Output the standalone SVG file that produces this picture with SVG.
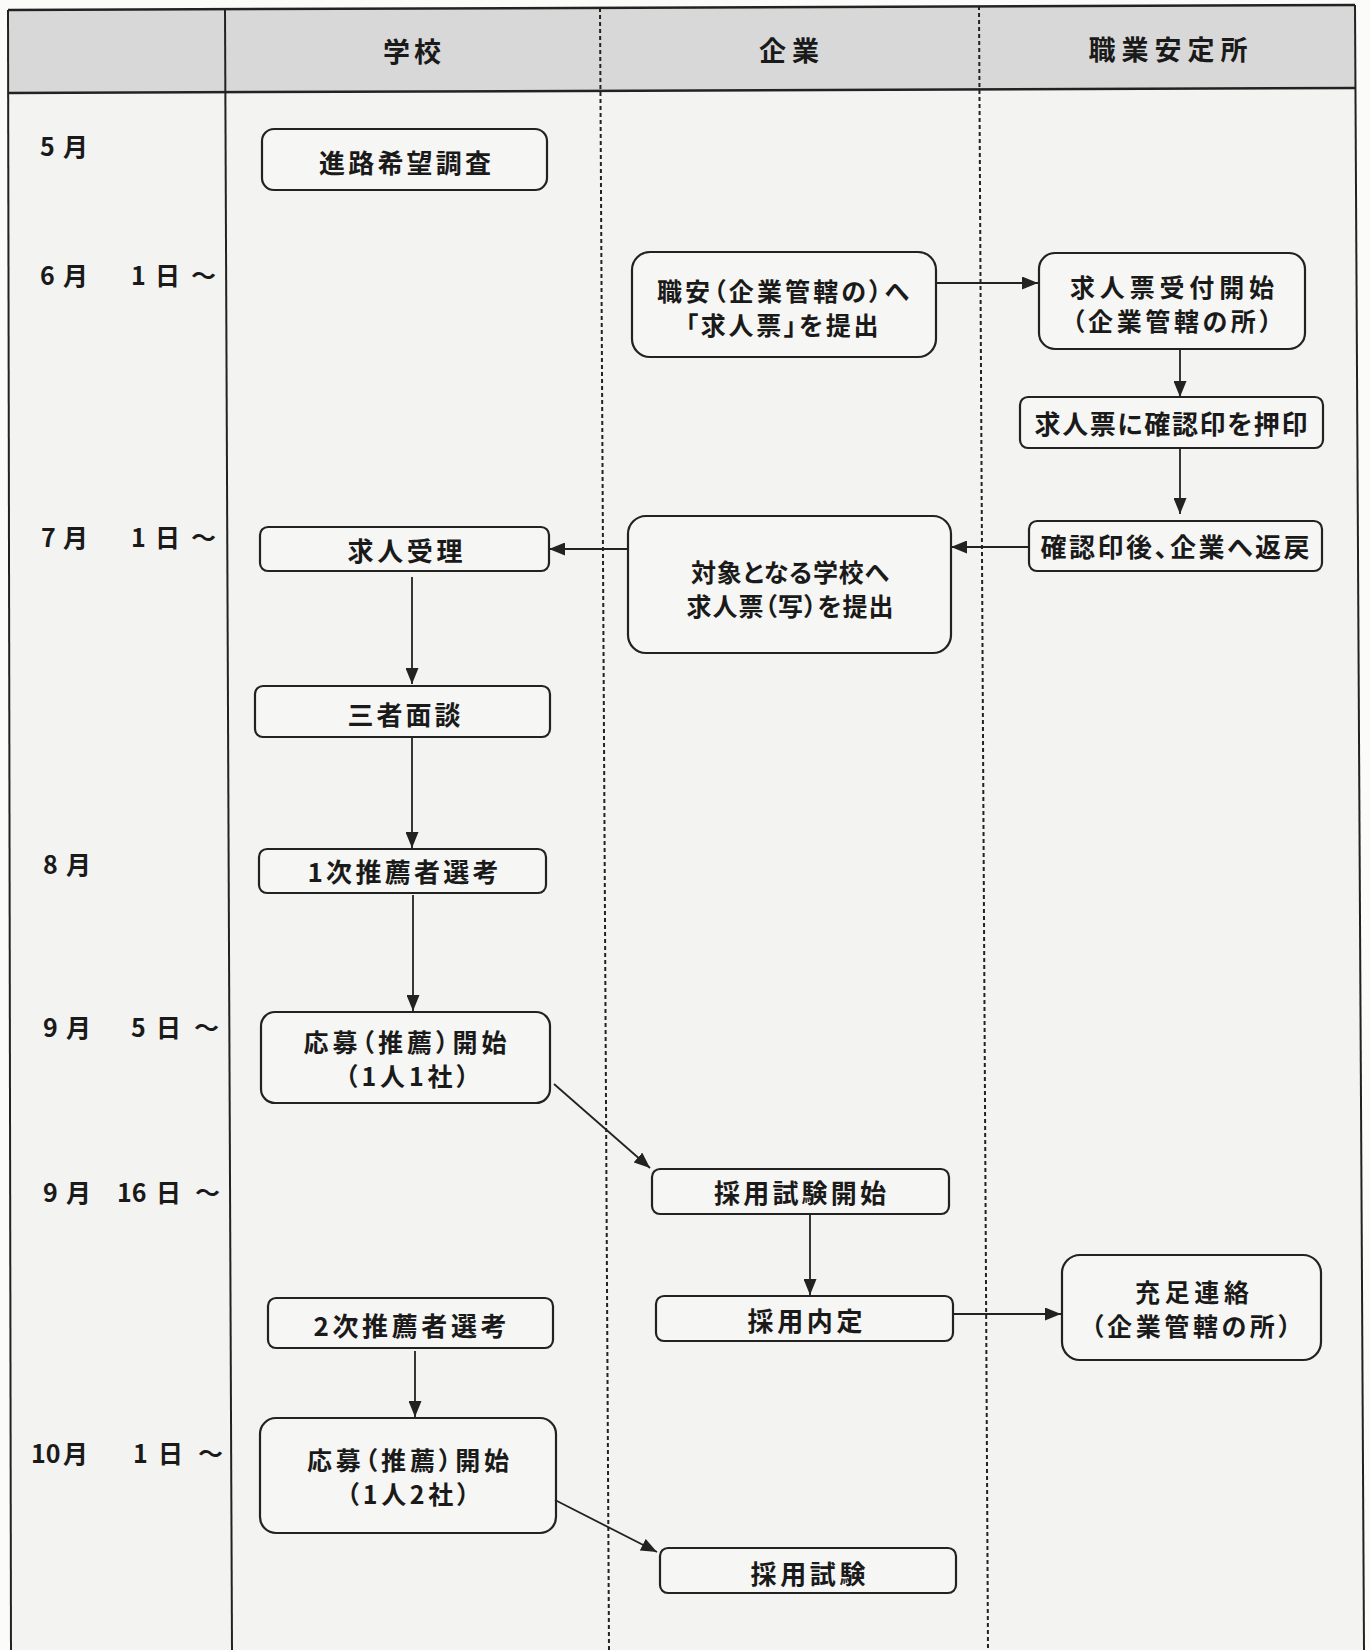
<svg xmlns="http://www.w3.org/2000/svg" width="1370" height="1650" viewBox="0 0 1370 1650">
<style>
text{font-family:"Noto Sans CJK JP","Noto Sans CJK SC",sans-serif;fill:#1a1a1a}
.hd{font-size:27px;font-weight:700}
.lb{font-size:25px;font-weight:700}
.bt{font-size:26px;font-weight:600;font-feature-settings:"palt" 1;text-anchor:middle}
.b2{font-size:25px}
.box{fill:#f6f6f4;stroke:#222;stroke-width:2.2}
.con line{stroke:#222;stroke-width:1.8}
.frame{stroke:#222;fill:none}
.dash{stroke:#222;stroke-width:2;stroke-dasharray:4 3;fill:none}
</style>
<defs>
<marker id="ah" viewBox="0 0 16 13" refX="16" refY="6.5" markerWidth="16" markerHeight="13" markerUnits="userSpaceOnUse" orient="auto">
<path d="M0,0 L16,6.5 L0,13 Z" fill="#222"/>
</marker>
</defs>
<rect x="0" y="0" width="1370" height="1650" fill="#fbfbfa"/>
<g id="table">
<polygon points="8,10 1355,5 1364,1650 11,1650" fill="#f3f3f1"/>
<polygon points="8,10 1355,5 1356,88 8,93" fill="#d8d8d8"/>
<line class="frame" x1="8" y1="10" x2="1355" y2="5" stroke-width="2.5"/>
<line class="frame" x1="8" y1="93" x2="1356" y2="88" stroke-width="2.5"/>
<line class="frame" x1="8" y1="10" x2="11" y2="1650" stroke-width="2"/>
<line class="frame" x1="1355" y1="5" x2="1364" y2="1650" stroke-width="2"/>
<line class="frame" x1="225" y1="9" x2="232" y2="1650" stroke-width="2"/>
<line class="dash" x1="600" y1="8" x2="609" y2="1650"/>
<line class="dash" x1="979" y1="6" x2="988" y2="1650"/>
<text class="hd" x="412" y="50" text-anchor="middle" dominant-baseline="central" textLength="58">学校</text>
<text class="hd" x="789" y="49" text-anchor="middle" dominant-baseline="central" textLength="60">企業</text>
<text class="hd" x="1168" y="48" text-anchor="middle" dominant-baseline="central" textLength="159">職業安定所</text>
</g>
<g id="dates">
<text class="lb" y="145" dominant-baseline="central"><tspan x="40">5</tspan><tspan x="63">月</tspan></text>
<text class="lb" y="274" dominant-baseline="central"><tspan x="40">6</tspan><tspan x="63">月</tspan><tspan x="131">1</tspan><tspan x="155">日</tspan><tspan x="191">～</tspan></text>
<text class="lb" y="536" dominant-baseline="central"><tspan x="41">7</tspan><tspan x="63">月</tspan><tspan x="131">1</tspan><tspan x="155">日</tspan><tspan x="191">～</tspan></text>
<text class="lb" y="863" dominant-baseline="central"><tspan x="43">8</tspan><tspan x="66">月</tspan></text>
<text class="lb" y="1026" dominant-baseline="central"><tspan x="43">9</tspan><tspan x="66">月</tspan><tspan x="131">5</tspan><tspan x="156">日</tspan><tspan x="194">～</tspan></text>
<text class="lb" y="1191" dominant-baseline="central"><tspan x="43">9</tspan><tspan x="66">月</tspan><tspan x="117">16</tspan><tspan x="156">日</tspan><tspan x="195">～</tspan></text>
<text class="lb" y="1452" dominant-baseline="central"><tspan x="31">10</tspan><tspan x="63">月</tspan><tspan x="133">1</tspan><tspan x="158">日</tspan><tspan x="198">～</tspan></text>
</g>
<g id="n1"><rect class="box" x="262" y="129" width="285" height="61" rx="12"/><text class="bt" x="405" y="161" dominant-baseline="central" textLength="172">進路希望調査</text></g>
<g id="n2"><rect class="box" x="632" y="252" width="304" height="105" rx="18"/><text class="bt b2" dominant-baseline="central"><tspan x="783" y="290" textLength="252">職安（企業管轄の）へ</tspan><tspan x="782" y="324" textLength="193">「求人票」を提出</tspan></text></g>
<g id="n3"><rect class="box" x="1039" y="253" width="266" height="96" rx="16"/><text class="bt b2" dominant-baseline="central"><tspan x="1172" y="286" textLength="204">求人票受付開始</tspan><tspan x="1172" y="320" textLength="200">（企業管轄の所）</tspan></text></g>
<g id="n4"><rect class="box" x="1020" y="397" width="303" height="51" rx="8"/><text class="bt" x="1171" y="422" dominant-baseline="central" textLength="273">求人票に確認印を押印</text></g>
<g id="n5"><rect class="box" x="1029" y="521" width="293" height="50" rx="8"/><text class="bt" x="1175" y="545" dominant-baseline="central" textLength="269">確認印後、企業へ返戻</text></g>
<g id="n6"><rect class="box" x="628" y="516" width="323" height="137" rx="18"/><text class="bt b2" dominant-baseline="central"><tspan x="790" y="571" textLength="198">対象となる学校へ</tspan><tspan x="790" y="605" textLength="207">求人票（写）を提出</tspan></text></g>
<g id="n7"><rect class="box" x="260" y="527" width="289" height="44" rx="8"/><text class="bt" x="405" y="549" dominant-baseline="central" textLength="115">求人受理</text></g>
<g id="n8"><rect class="box" x="255" y="686" width="295" height="51" rx="8"/><text class="bt" x="404" y="713" dominant-baseline="central" textLength="113">三者面談</text></g>
<g id="n9"><rect class="box" x="259" y="849" width="287" height="44" rx="8"/><text class="bt" x="403" y="870" dominant-baseline="central" textLength="191">1次推薦者選考</text></g>
<g id="n10"><rect class="box" x="261" y="1012" width="289" height="91" rx="14"/><text class="bt b2" dominant-baseline="central"><tspan x="405" y="1041" textLength="203">応募（推薦）開始</tspan><tspan x="407" y="1075" textLength="124">（1人1社）</tspan></text></g>
<g id="n11"><rect class="box" x="652" y="1169" width="297" height="45" rx="8"/><text class="bt" x="800" y="1191" dominant-baseline="central" textLength="172">採用試験開始</text></g>
<g id="n12"><rect class="box" x="656" y="1296" width="297" height="45" rx="8"/><text class="bt" x="805" y="1319" dominant-baseline="central" textLength="115">採用内定</text></g>
<g id="n13"><rect class="box" x="1062" y="1255" width="259" height="105" rx="18"/><text class="bt b2" dominant-baseline="central"><tspan x="1192" y="1291" textLength="114">充足連絡</tspan><tspan x="1191" y="1325" textLength="200">（企業管轄の所）</tspan></text></g>
<g id="n14"><rect class="box" x="268" y="1298" width="285" height="50" rx="8"/><text class="bt" x="410" y="1324" dominant-baseline="central" textLength="193">2次推薦者選考</text></g>
<g id="n15"><rect class="box" x="260" y="1418" width="296" height="115" rx="16"/><text class="bt b2" dominant-baseline="central"><tspan x="408" y="1459" textLength="202">応募（推薦）開始</tspan><tspan x="408" y="1493" textLength="123">（1人2社）</tspan></text></g>
<g id="n16"><rect class="box" x="660" y="1548" width="296" height="45" rx="8"/><text class="bt" x="808" y="1572" dominant-baseline="central" textLength="115">採用試験</text></g>
<g id="connectors" class="con">
<line x1="936" y1="283" x2="1038" y2="283" marker-end="url(#ah)"/>
<line x1="1180" y1="349" x2="1180" y2="397" marker-end="url(#ah)"/>
<line x1="1180" y1="448" x2="1180" y2="514" marker-end="url(#ah)"/>
<line x1="1029" y1="547" x2="951" y2="547" marker-end="url(#ah)"/>
<line x1="628" y1="549" x2="549" y2="549" marker-end="url(#ah)"/>
<line x1="412" y1="577" x2="412" y2="684" marker-end="url(#ah)"/>
<line x1="412" y1="737" x2="412" y2="848" marker-end="url(#ah)"/>
<line x1="413" y1="895" x2="413" y2="1011" marker-end="url(#ah)"/>
<line x1="554" y1="1084" x2="650" y2="1168" marker-end="url(#ah)"/>
<line x1="810" y1="1214" x2="810" y2="1295" marker-end="url(#ah)"/>
<line x1="953" y1="1314" x2="1061" y2="1314" marker-end="url(#ah)"/>
<line x1="415" y1="1351" x2="415" y2="1417" marker-end="url(#ah)"/>
<line x1="555" y1="1500" x2="657" y2="1552" marker-end="url(#ah)"/>
</g>
</svg>
